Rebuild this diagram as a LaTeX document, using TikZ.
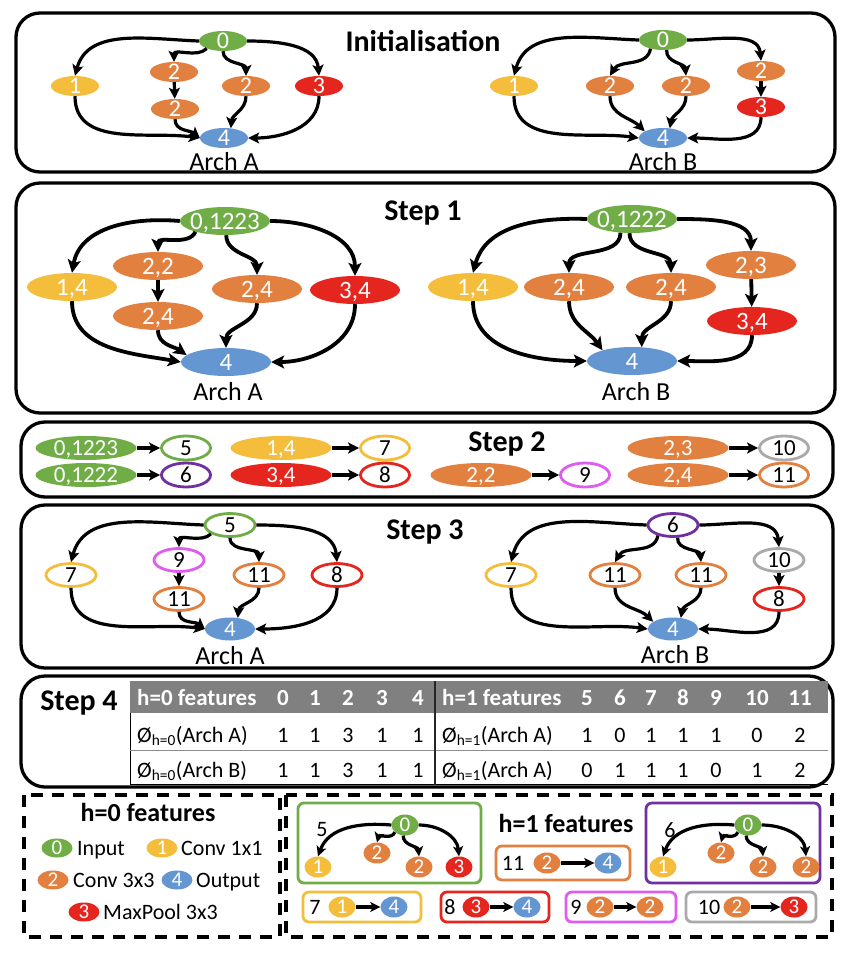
\documentclass[tikz,border=0pt]{standalone}
\usepackage{fontspec}
\setmainfont{Carlito}
\usetikzlibrary{shapes.geometric,arrows.meta}
\definecolor{cgreen}{RGB}{112,173,71}
\definecolor{cyellow}{RGB}{244,190,60}
\definecolor{corange}{RGB}{226,128,64}
\definecolor{cred}{RGB}{228,38,30}
\definecolor{cblue}{RGB}{100,150,210}
\definecolor{cpurple}{RGB}{112,48,160}
\definecolor{cmag}{RGB}{222,92,240}
\definecolor{cgray}{RGB}{170,170,170}
\definecolor{chead}{RGB}{128,128,128}
\newcommand{\nt}[1]{\makebox[0pt]{\raisebox{-.33em}[0pt][0pt]{#1}}}
\newcommand{\fs}[1]{\fontsize{#1}{#1}\selectfont}
\tikzset{
  fe/.style={ellipse, inner sep=0pt, fill=#1, text=white},
  oe/.style={ellipse, inner sep=0pt, draw=#1, fill=white, text=black, line width=2.8pt},
  szI/.style={minimum width=48pt, minimum height=20pt, font=\fs{24}},
  szS/.style={minimum width=90pt, minimum height=28pt, font=\fs{25}},
  szT/.style={minimum width=101pt, minimum height=24pt, font=\fs{23}},
  szO/.style={minimum width=49pt, minimum height=24pt, font=\fs{23}},
  szD/.style={minimum width=50pt, minimum height=23pt, font=\fs{23}},
  szL/.style={minimum width=31pt, minimum height=19pt, font=\fs{21}},
  szR/.style={minimum width=27pt, minimum height=21pt, font=\fs{21}},
  panel/.style={draw, line width=3.3pt, rounded corners=24pt},
  dashbox/.style={draw, line width=3.2pt, dash pattern=on 12pt off 9pt},
  ttl/.style={font=\bfseries\fs{30}},
  archlbl/.style={font=\fs{26}},
  txt/.style={font=\fs{22}, inner sep=0pt},
  ttxt/.style={font=\fs{22}, inner sep=0pt},
  htxt/.style={font=\bfseries\fs{23}, text=white, inner sep=0pt},
  aI/.style={line width=3.2pt, -{Stealth[length=11pt,width=11pt,inset=2.5pt]}},
  aS/.style={line width=3.8pt, -{Stealth[length=13pt,width=13pt,inset=3pt]}},
  aT/.style={line width=3.4pt, -{Stealth[length=11pt,width=11pt,inset=2.5pt]}},
  aL/.style={line width=3.2pt, -{Stealth[length=10pt,width=10pt,inset=2.5pt]}},
  rbox/.style={draw=#1, line width=2.8pt, rounded corners=6pt},
}
\begin{document}
\begin{tikzpicture}[x=1pt,y=1pt]
\fill[white] (0,0) rectangle (854,-962);
\useasboundingbox (0,0) rectangle (854,-962);

% ---------- Panels ----------
\draw[panel] (16,-13) rectangle (835,-172);
\draw[panel] (16,-183) rectangle (835,-413);
\draw[panel] (21,-422) rectangle (833,-497);
\draw[panel] (21,-505) rectangle (833,-668);
\draw[panel] (21,-676) rectangle (833,-787);

% ---------- Initialisation ----------
\node[ttl] (tInit) at (423,-41) {Initialisation};
\node[fe=cgreen,szI] (ia0) at (223,-41) {\nt{0}};
\node[fe=cyellow,szI] (ia1) at (75,-86) {\nt{1}};
\node[fe=corange,szI] (ia2u) at (174,-72) {\nt{2}};
\node[fe=corange,szI] (ia2d) at (175,-109) {\nt{2}};
\node[fe=corange,szI] (ia2r) at (246,-86) {\nt{2}};
\node[fe=cred,szI] (ia3) at (319,-86) {\nt{3}};
\node[fe=cblue,szI] (ia4) at (224,-138) {\nt{4}};
\node[archlbl] (iaL) at (224,-162) {Arch A};
\draw[aI] (ia0.west) to[out=178,in=75] (ia1.north);
\draw[aI] (ia0.205) to[out=225,in=90] (ia2u.north);
\draw[aI] (ia0.south) to[out=-90,in=90] (ia2r.north);
\draw[aI] (ia0.east) to[out=0,in=95] (ia3.north);
\draw[aI] (ia2u) -- (ia2d);
\draw[aI] (ia1.south) to[out=-90,in=172] (ia4.west);
\draw[aI] (ia2d.south) to[out=-90,in=140] (ia4.west);
\draw[aI] (ia2r.south) to[out=-90,in=85] (ia4.55);
\draw[aI] (ia3.south) to[out=-90,in=0] (ia4.east);

\node[fe=cgreen,szI] (ib0) at (663,-40) {\nt{0}};
\node[fe=cyellow,szI] (ib1) at (514,-86) {\nt{1}};
\node[fe=corange,szI] (ib2l) at (610,-86) {\nt{2}};
\node[fe=corange,szI] (ib2r) at (686,-86) {\nt{2}};
\node[fe=corange,szI] (ib2t) at (761,-71) {\nt{2}};
\node[fe=cred,szI] (ib3) at (761,-107) {\nt{3}};
\node[fe=cblue,szI] (ib4) at (663,-138) {\nt{4}};
\node[archlbl] (ibL) at (663,-162) {Arch B};
\draw[aI] (ib0.west) to[out=178,in=75] (ib1.north);
\draw[aI] (ib0.215) to[out=-100,in=60] (ib2l.north);
\draw[aI] (ib0.-70) to[out=-95,in=95] (ib2r.north);
\draw[aI] (ib0.east) to[out=0,in=95] (ib2t.north);
\draw[aI] (ib2t) -- (ib3);
\draw[aI] (ib1.south) to[out=-90,in=172] (ib4.west);
\draw[aI] (ib2l.south) to[out=-90,in=135] (ib4.160);
\draw[aI] (ib2r.south) to[out=-90,in=80] (ib4.55);
\draw[aI] (ib3.south) to[out=-90,in=0] (ib4.east);

% ---------- Step 1 ----------
\node[ttl] (tS1) at (423,-213) {Step 1};
\node[fe=cgreen,szS] (sa0) at (225,-221) {\nt{0,1223}};
\node[fe=cyellow,szS] (sa1) at (72,-287) {\nt{1,4}};
\node[fe=corange,szS] (sa2u) at (158,-266) {\nt{2,2}};
\node[fe=corange,szS] (sa2d) at (158,-316) {\nt{2,4}};
\node[fe=corange,szS] (sa2r) at (257,-289) {\nt{2,4}};
\node[fe=cred,szS] (sa3) at (355,-290) {\nt{3,4}};
\node[fe=cblue,szS] (sa4) at (226,-362) {\nt{4}};
\node[archlbl] (saL) at (228,-392) {Arch A};
\draw[aS] (sa0.west) to[out=175,in=80] (sa1.north);
\draw[aS] (sa0.200) to[out=-115,in=90] (sa2u.north);
\draw[aS] (sa0.-85) to[out=-90,in=90] (sa2r.north);
\draw[aS] (sa0.east) to[out=0,in=90] (sa3.north);
\draw[aS] (sa2u) -- (sa2d);
\draw[aS] (sa1.south) to[out=-90,in=170] (sa4.west);
\draw[aS] (sa2d.south) to[out=-90,in=145] (sa4.170);
\draw[aS] (sa2r.south) to[out=-90,in=90] (sa4.north);
\draw[aS] (sa3.south) to[out=-90,in=0] (sa4.east);

\node[fe=cgreen,szS] (sb0) at (632,-219) {\nt{0,1222}};
\node[fe=cyellow,szS] (sb1) at (473,-287) {\nt{1,4}};
\node[fe=corange,szS] (sb2l) at (569,-287) {\nt{2,4}};
\node[fe=corange,szS] (sb2r) at (671,-287) {\nt{2,4}};
\node[fe=corange,szS] (sb2t) at (751,-265) {\nt{2,3}};
\node[fe=cred,szS] (sb3) at (752,-321) {\nt{3,4}};
\node[fe=cblue,szS] (sb4) at (632,-361) {\nt{4}};
\node[archlbl] (sbL) at (636,-392) {Arch B};
\draw[aS] (sb0.west) to[out=178,in=75] (sb1.north);
\draw[aS] (sb0.230) to[out=-90,in=90] (sb2l.north);
\draw[aS] (sb0.-100) to[out=-90,in=90] (sb2r.north);
\draw[aS] (sb0.east) to[out=0,in=90] (sb2t.north);
\draw[aS] (sb2t) -- (sb3);
\draw[aS] (sb1.south) to[out=-90,in=180] (sb4.west);
\draw[aS] (sb2l.south) to[out=-90,in=125] (sb4.160);
\draw[aS] (sb2r.south) to[out=-90,in=90] (sb4.55);
\draw[aS] (sb3.south) to[out=-90,in=0] (sb4.east);

% ---------- Step 2 ----------
\node[ttl] (tS2) at (507,-444) {Step 2};
\node[fe=cgreen,szT] (f1) at (86,-448) {\nt{0,1223}};
\node[oe=cgreen,szO] (o5) at (186,-448) {\nt{5}};
\node[fe=cyellow,szT] (f2) at (281,-448) {\nt{1,4}};
\node[oe=cyellow,szO] (o7) at (385,-448) {\nt{7}};
\node[fe=corange,szT] (f3) at (678,-448) {\nt{2,3}};
\node[oe=cgray,szO] (o10) at (784,-448) {\nt{10}};
\node[fe=cgreen,szT] (f4) at (86,-475) {\nt{0,1222}};
\node[oe=cpurple,szO] (o6) at (186,-475) {\nt{6}};
\node[fe=cred,szT] (f5) at (281,-475) {\nt{3,4}};
\node[oe=cred,szO] (o8) at (385,-475) {\nt{8}};
\node[fe=corange,szT] (f6) at (481,-475) {\nt{2,2}};
\node[oe=cmag,szO] (o9) at (585,-475) {\nt{9}};
\node[fe=corange,szT] (f7) at (678,-475) {\nt{2,4}};
\node[oe=corange,szO] (o11) at (784,-475) {\nt{11}};
\draw[aT] (f1) -- (o5);
\draw[aT] (f2) -- (o7);
\draw[aT] (f3) -- (o10);
\draw[aT] (f4) -- (o6);
\draw[aT] (f5) -- (o8);
\draw[aT] (f6) -- (o9);
\draw[aT] (f7) -- (o11);

% ---------- Step 3 ----------
\node[ttl] (tS3) at (425,-532) {Step 3};
\node[oe=cgreen,szD] (ta0) at (230,-525) {\nt{5}};
\node[oe=cyellow,szD] (ta1) at (71,-575) {\nt{7}};
\node[oe=cmag,szD] (ta2u) at (179,-560) {\nt{9}};
\node[oe=corange,szD] (ta2d) at (179,-599) {\nt{11}};
\node[oe=corange,szD] (ta2r) at (259,-575) {\nt{11}};
\node[oe=cred,szD] (ta3) at (337,-575) {\nt{8}};
\node[fe=cblue,szD] (ta4) at (230,-629) {\nt{4}};
\node[archlbl] (taL) at (230,-656) {Arch A};
\draw[aI] (ta0.west) to[out=178,in=75] (ta1.north);
\draw[aI] (ta0.205) to[out=225,in=90] (ta2u.north);
\draw[aI] (ta0.south) to[out=-90,in=90] (ta2r.north);
\draw[aI] (ta0.east) to[out=0,in=95] (ta3.north);
\draw[aI] (ta2u) -- (ta2d);
\draw[aI] (ta1.south) to[out=-90,in=172] (ta4.west);
\draw[aI] (ta2d.south) to[out=-90,in=140] (ta4.west);
\draw[aI] (ta2r.south) to[out=-90,in=85] (ta4.55);
\draw[aI] (ta3.south) to[out=-90,in=0] (ta4.east);

\node[oe=cpurple,szD] (tb0) at (673,-525) {\nt{6}};
\node[oe=cyellow,szD] (tb1) at (511,-575) {\nt{7}};
\node[oe=corange,szD] (tb2l) at (615,-575) {\nt{11}};
\node[oe=corange,szD] (tb2r) at (701,-575) {\nt{11}};
\node[oe=cgray,szD] (tb2t) at (779,-560) {\nt{10}};
\node[oe=cred,szD] (tb3) at (779,-599) {\nt{8}};
\node[fe=cblue,szD] (tb4) at (673,-629) {\nt{4}};
\node[archlbl] (tbL) at (675,-655) {Arch B};
\draw[aI] (tb0.west) to[out=178,in=75] (tb1.north);
\draw[aI] (tb0.215) to[out=-100,in=60] (tb2l.north);
\draw[aI] (tb0.-70) to[out=-95,in=95] (tb2r.north);
\draw[aI] (tb0.east) to[out=0,in=95] (tb2t.north);
\draw[aI] (tb2t) -- (tb3);
\draw[aI] (tb1.south) to[out=-90,in=172] (tb4.west);
\draw[aI] (tb2l.south) to[out=-90,in=135] (tb4.160);
\draw[aI] (tb2r.south) to[out=-90,in=80] (tb4.55);
\draw[aI] (tb3.south) to[out=-90,in=0] (tb4.east);

% ---------- Step 4 (table) ----------
\node[ttl] (tS4) at (79,-703) {Step 4};
\fill[chead] (130,-681) rectangle (828,-713);
\draw[line width=1pt] (130,-713) -- (130,-784) -- (828,-784);
\draw[line width=0.8pt, black!45] (130,-750) -- (828,-750);
\draw[line width=2.5pt, black!85] (435,-681) -- (435,-785);
\node[htxt, anchor=base west] (h0) at (137,-705) {h=0 features};
\node[htxt, anchor=base west] (h1) at (442,-705) {h=1 features};
\foreach \v/\x in {0/283,1/315,2/348,3/382,4/418,5/587,6/620,7/651,8/683,9/716,10/757,11/800}
  \node[htxt, anchor=base] at (\x,-705) {\v};
\node[ttxt, anchor=base west] (r1a) at (137,-742) {Ø\textsubscript{h=0}(Arch A)};
\node[ttxt, anchor=base west] (r2a) at (137,-777) {Ø\textsubscript{h=0}(Arch B)};
\node[ttxt, anchor=base west] (r1b) at (442,-742) {Ø\textsubscript{h=1}(Arch A)};
\node[ttxt, anchor=base west] (r2b) at (442,-777) {Ø\textsubscript{h=1}(Arch A)};
\foreach \v/\x in {1/283,1/315,3/348,1/382,1/418,1/587,0/620,1/651,1/683,1/716,0/757,2/800}
  \node[ttxt, anchor=base] at (\x,-742) {\v};
\foreach \v/\x in {1/283,1/315,3/348,1/382,1/418,0/587,1/620,1/651,1/683,0/716,1/757,2/800}
  \node[ttxt, anchor=base] at (\x,-777) {\v};

% ---------- Legend h=0 ----------
\draw[dashbox] (24,-795) rectangle (280,-937);
\node[font=\bfseries\fs{26}] (lh0) at (148,-812) {h=0 features};
\node[fe=cgreen,szL] (lg0) at (57,-848) {\nt{0}};
\node[txt, anchor=base west] (lt0) at (77,-855) {Input};
\node[fe=cyellow,szL] (lg1) at (162,-848) {\nt{1}};
\node[txt, anchor=base west] (lt1) at (181,-855) {Conv 1x1};
\node[fe=corange,szL] (lg2) at (53,-880) {\nt{2}};
\node[txt, anchor=base west] (lt2) at (73,-887) {Conv 3x3};
\node[fe=cblue,szL] (lg4) at (177,-880) {\nt{4}};
\node[txt, anchor=base west] (lt4) at (196,-887) {Output};
\node[fe=cred,szL] (lg3) at (84,-912) {\nt{3}};
\node[txt, anchor=base west] (lt3) at (103,-919) {MaxPool 3x3};

% ---------- Legend h=1 ----------
\draw[dashbox] (286,-795) rectangle (832,-937);
\node[font=\bfseries\fs{26}] (lh1) at (566,-823) {h=1 features};

\draw[rbox=cgreen] (298,-803) rectangle (481,-883);
\node[txt] (l5) at (322,-830) {5};
\node[fe=cgreen,szR] (rg0) at (405,-825) {\nt{0}};
\node[fe=cyellow,szR] (rg1) at (318,-867) {\nt{1}};
\node[fe=corange,szR] (rg2) at (377,-853) {\nt{2}};
\node[fe=corange,szR] (rg2b) at (419,-867) {\nt{2}};
\node[fe=cred,szR] (rg3) at (459,-867) {\nt{3}};
\draw[aL] (rg0.west) to[out=175,in=70] (rg1.north);
\draw[aL] (rg0.215) to[out=-110,in=75] (rg2.north);
\draw[aL] (rg0.-100) to[out=-90,in=95] (rg2b.north);
\draw[aL] (rg0.east) to[out=0,in=95] (rg3.north);

\draw[rbox=cpurple] (646,-803) rectangle (820,-883);
\node[txt] (l6) at (670,-830) {6};
\node[fe=cgreen,szR] (rp0) at (748,-825) {\nt{0}};
\node[fe=cyellow,szR] (rp1) at (663,-867) {\nt{1}};
\node[fe=corange,szR] (rp2) at (721,-853) {\nt{2}};
\node[fe=corange,szR] (rp2b) at (763,-867) {\nt{2}};
\node[fe=corange,szR] (rp2c) at (806,-867) {\nt{2}};
\draw[aL] (rp0.west) to[out=175,in=70] (rp1.north);
\draw[aL] (rp0.215) to[out=-110,in=75] (rp2.north);
\draw[aL] (rp0.-100) to[out=-90,in=95] (rp2b.north);
\draw[aL] (rp0.east) to[out=0,in=95] (rp2c.north);

\draw[rbox=corange] (496,-846) rectangle (630,-880);
\node[txt] (l11) at (513,-863) {11};
\node[fe=corange,szR] (ro2) at (547,-863) {\nt{2}};
\node[fe=cblue,szR] (ro4) at (608,-863) {\nt{4}};
\draw[aL] (ro2) -- (ro4);

\draw[rbox=cyellow] (303,-892) rectangle (421,-922);
\node[txt] (l7) at (315,-907) {7};
\node[fe=cyellow,szR] (ry1) at (342,-907) {\nt{1}};
\node[fe=cblue,szR] (ry4) at (394,-907) {\nt{4}};
\draw[aL] (ry1) -- (ry4);

\draw[rbox=cred] (441,-892) rectangle (549,-922);
\node[txt] (l8) at (450,-907) {8};
\node[fe=cred,szR] (rr3) at (476,-907) {\nt{3}};
\node[fe=cblue,szR] (rr4) at (527,-907) {\nt{4}};
\draw[aL] (rr3) -- (rr4);

\draw[rbox=cmag] (566,-892) rectangle (676,-922);
\node[txt] (l9) at (576,-907) {9};
\node[fe=corange,szR] (rm2) at (600,-907) {\nt{2}};
\node[fe=corange,szR] (rm2b) at (650,-907) {\nt{2}};
\draw[aL] (rm2) -- (rm2b);

\draw[rbox=cgray] (686,-892) rectangle (816,-922);
\node[txt] (l10) at (709,-907) {10};
\node[fe=corange,szR] (rx2) at (737,-907) {\nt{2}};
\node[fe=cred,szR] (rx3) at (794,-907) {\nt{3}};
\draw[aL] (rx2) -- (rx3);
\end{tikzpicture}
\end{document}
